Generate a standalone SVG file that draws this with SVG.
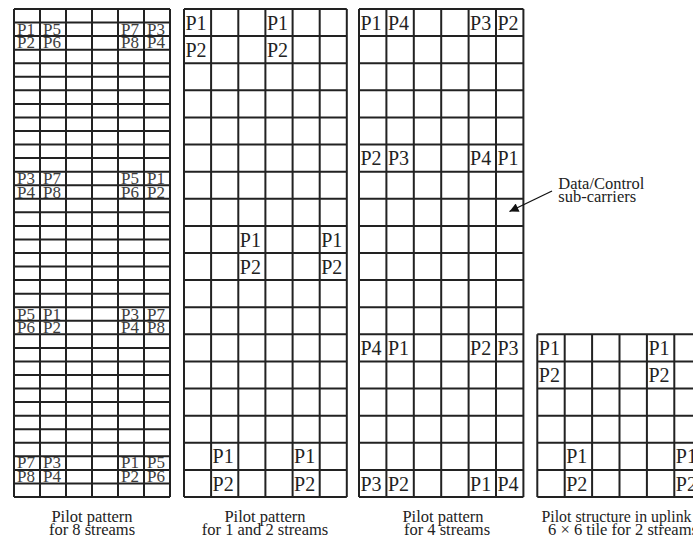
<svg xmlns="http://www.w3.org/2000/svg" width="693" height="541" viewBox="0 0 693 541">
<defs>
<style>
.grid{fill:none;stroke:#222;stroke-width:2}
.s{font-family:"Liberation Serif","Times New Roman",serif;font-size:17px;fill:#3c3c3c}
.b{font-family:"Liberation Serif","Times New Roman",serif;font-size:20px;fill:#222}
.cap{font-family:"Liberation Serif","Times New Roman",serif;font-size:16.5px;fill:#222}
.arrow{stroke:#111;stroke-width:1.3;fill:none}
</style>
<marker id="ah" viewBox="0 0 10 10" refX="10" refY="5" markerWidth="10" markerHeight="9" markerUnits="userSpaceOnUse" orient="auto">
<path d="M0,0 L10,5 L0,10 z" fill="#111"/>
</marker>
</defs>
<rect width="693" height="541" fill="#fff"/>

<g id="grid8">
<path class="grid" d="M14 9V497M40 9V497M66 9V497M92 9V497M118 9V497M144 9V497M170 9V497
M14 9H170M14 22.56H170M14 36.11H170M14 49.67H170M14 63.22H170M14 76.78H170M14 90.33H170M14 103.89H170M14 117.44H170M14 131H170
M14 144.56H170M14 158.11H170M14 171.67H170M14 185.22H170M14 198.78H170M14 212.33H170M14 225.89H170M14 239.44H170M14 253H170
M14 266.56H170M14 280.11H170M14 293.67H170M14 307.22H170M14 320.78H170M14 334.33H170M14 347.89H170M14 361.44H170M14 375H170
M14 388.56H170M14 402.11H170M14 415.67H170M14 429.22H170M14 442.78H170M14 456.33H170M14 469.89H170M14 483.44H170M14 497H170"/>
<g class="s">
<text x="17" y="34.6">P1</text><text x="43" y="34.6">P5</text><text x="121" y="34.6">P7</text><text x="147" y="34.6">P3</text>
<text x="17" y="48.2">P2</text><text x="43" y="48.2">P6</text><text x="121" y="48.2">P8</text><text x="147" y="48.2">P4</text>
<text x="17" y="184">P3</text><text x="43" y="184">P7</text><text x="121" y="184">P5</text><text x="147" y="184">P1</text>
<text x="17" y="197.5">P4</text><text x="43" y="197.5">P8</text><text x="121" y="197.5">P6</text><text x="147" y="197.5">P2</text>
<text x="17" y="319.5">P5</text><text x="43" y="319.5">P1</text><text x="121" y="319.5">P3</text><text x="147" y="319.5">P7</text>
<text x="17" y="333">P6</text><text x="43" y="333">P2</text><text x="121" y="333">P4</text><text x="147" y="333">P8</text>
<text x="17" y="468">P7</text><text x="43" y="468">P3</text><text x="121" y="468">P1</text><text x="147" y="468">P5</text>
<text x="17" y="481.7">P8</text><text x="43" y="481.7">P4</text><text x="121" y="481.7">P2</text><text x="147" y="481.7">P6</text>
</g>
<text class="cap" x="92" y="521.5" text-anchor="middle">Pilot pattern</text>
<text class="cap" x="92" y="534.5" text-anchor="middle">for 8 streams</text>
</g>

<g id="grid12">
<path class="grid" d="M184 9V497M211.1 9V497M238.3 9V497M265.4 9V497M292.6 9V497M319.7 9V497M346.8 9V497
M184 9H346.8M184 36.11H346.8M184 63.22H346.8M184 90.33H346.8M184 117.44H346.8M184 144.56H346.8M184 171.67H346.8M184 198.78H346.8M184 225.89H346.8M184 253H346.8
M184 280.11H346.8M184 307.22H346.8M184 334.33H346.8M184 361.44H346.8M184 388.56H346.8M184 415.67H346.8M184 442.78H346.8M184 469.89H346.8M184 497H346.8"/>
<g class="b">
<text x="185.5" y="29.6">P1</text><text x="266.9" y="29.6">P1</text>
<text x="185.5" y="56.7">P2</text><text x="266.9" y="56.7">P2</text>
<text x="239.8" y="246.5">P1</text><text x="321.2" y="246.5">P1</text>
<text x="239.8" y="273.6">P2</text><text x="321.2" y="273.6">P2</text>
<text x="212.6" y="463.4">P1</text><text x="294.1" y="463.4">P1</text>
<text x="212.6" y="490.5">P2</text><text x="294.1" y="490.5">P2</text>
</g>
<text class="cap" x="265" y="521.5" text-anchor="middle">Pilot pattern</text>
<text class="cap" x="265" y="534.5" text-anchor="middle">for 1 and 2 streams</text>
</g>

<g id="grid4">
<path class="grid" d="M359 9V497M386.4 9V497M413.8 9V497M441.2 9V497M468.6 9V497M496 9V497M523.4 9V497
M359 9H523.4M359 36.11H523.4M359 63.22H523.4M359 90.33H523.4M359 117.44H523.4M359 144.56H523.4M359 171.67H523.4M359 198.78H523.4M359 225.89H523.4M359 253H523.4
M359 280.11H523.4M359 307.22H523.4M359 334.33H523.4M359 361.44H523.4M359 388.56H523.4M359 415.67H523.4M359 442.78H523.4M359 469.89H523.4M359 497H523.4"/>
<g class="b">
<text x="360.5" y="29.6">P1</text><text x="387.9" y="29.6">P4</text><text x="470.1" y="29.6">P3</text><text x="497.5" y="29.6">P2</text>
<text x="360.5" y="165.2">P2</text><text x="387.9" y="165.2">P3</text><text x="470.1" y="165.2">P4</text><text x="497.5" y="165.2">P1</text>
<text x="360.5" y="354.9">P4</text><text x="387.9" y="354.9">P1</text><text x="470.1" y="354.9">P2</text><text x="497.5" y="354.9">P3</text>
<text x="360.5" y="490.5">P3</text><text x="387.9" y="490.5">P2</text><text x="470.1" y="490.5">P1</text><text x="497.5" y="490.5">P4</text>
</g>
<text class="cap" x="443" y="521.5" text-anchor="middle">Pilot pattern</text>
<text class="cap" x="447" y="534.5" text-anchor="middle">for 4 streams</text>
</g>

<g id="tile6x6">
<path class="grid" d="M537.3 334.33V497M564.7 334.33V497M592.1 334.33V497M619.5 334.33V497M646.9 334.33V497M674.3 334.33V497M701.7 334.33V497
M537.3 334.33H701.7M537.3 361.44H701.7M537.3 388.56H701.7M537.3 415.67H701.7M537.3 442.78H701.7M537.3 469.89H701.7M537.3 497H701.7"/>
<g class="b">
<text x="538.8" y="354.9">P1</text><text x="648.4" y="354.9">P1</text>
<text x="538.8" y="382">P2</text><text x="648.4" y="382">P2</text>
<text x="566.2" y="463.4">P1</text><text x="675.8" y="463.4">P1</text>
<text x="566.2" y="490.5">P2</text><text x="675.8" y="490.5">P2</text>
</g>
<text class="cap" x="541.5" y="521.5" textLength="150" lengthAdjust="spacingAndGlyphs">Pilot structure in uplink</text>
<text class="cap" x="548" y="534.5" textLength="150" lengthAdjust="spacingAndGlyphs">6 × 6 tile for 2 streams</text>
</g>

<g id="label-data">
<text class="cap" x="558.3" y="189">Data/Control</text>
<text class="cap" x="558.3" y="201.5">sub-carriers</text>
</g>

<g id="connectors">
<line class="arrow" x1="552" y1="191" x2="509.5" y2="211.5" marker-end="url(#ah)"/>
</g>
</svg>
